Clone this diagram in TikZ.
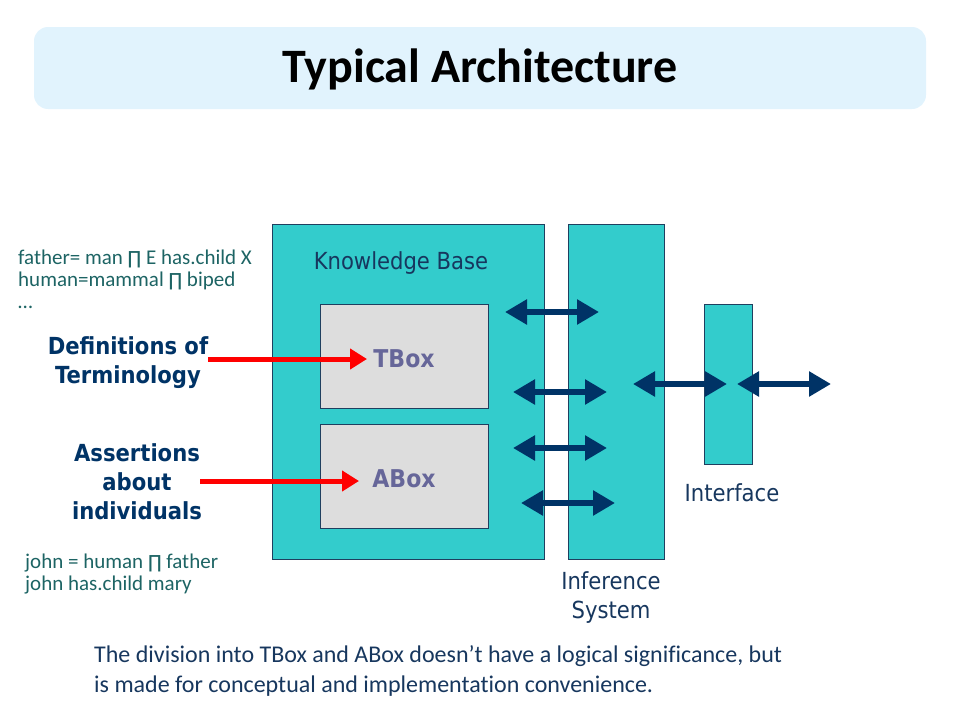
\documentclass[tikz,border=0pt]{standalone}
\usepackage{fontspec}
\setmainfont{Carlito}[Ligatures={NoCommon}]
\newfontfamily\tahoma{DejaVu Sans Condensed}
\newfontfamily\dvs{DejaVu Sans}
\usetikzlibrary{arrows.meta}
\definecolor{teal1}{HTML}{33CCCC}
\definecolor{navyb}{HTML}{1F3F5F}
\definecolor{navyarrow}{HTML}{003366}
\definecolor{titlebg}{HTML}{E1F3FD}
\definecolor{graybox}{HTML}{DDDDDD}
\definecolor{txtnavy}{HTML}{17375E}
\definecolor{txtteal}{HTML}{1D6464}
\definecolor{boxlabel}{HTML}{666699}
\newcommand{\prodsym}{{\dvs\fontsize{18}{22}\selectfont\char"220F}}
\tikzset{
  tealbox/.style={draw=navyb, line width=0.8pt, fill=teal1, inner sep=0pt},
  graybx/.style={draw=navyb, line width=0.8pt, fill=graybox, inner sep=0pt},
  dblarrow/.style={draw=navyarrow, line width=6pt,
    {Triangle[length=22pt,width=24pt]}-{Triangle[length=22pt,width=24pt]}},
  redarrow/.style={draw=red, line width=5pt, -{Triangle[length=17pt,width=20pt]}},
  lbl/.style={font=\tahoma\fontsize{23.5}{29}\selectfont, text=txtnavy, inner sep=0pt, align=center},
  boxlbl/.style={font=\tahoma\bfseries\fontsize{24.5}{29}\selectfont, text=boxlabel, inner sep=0pt},
  boldlbl/.style={font=\tahoma\bfseries\fontsize{23.5}{29}\selectfont, text=navyarrow, inner sep=0pt, align=center},
  smalltxt/.style={font=\fontsize{21}{22}\selectfont, text=txtteal, inner sep=0pt, align=left, anchor=north west},
}
\begin{document}
\begin{tikzpicture}[x=1pt,y=-1pt]
\useasboundingbox (0,0) rectangle (960,720);
% title
\node[fill=titlebg, rounded corners=14pt, minimum width=892pt, minimum height=82pt, inner sep=0pt] (titlebox) at (480,68) {};
\node[font=\bfseries\fontsize{48}{56}\selectfont, text=black, inner sep=0pt] (title) at (480,69) {Typical Architecture};
% boxes
\node[tealbox, minimum width=272pt, minimum height=335pt] (kb) at (408,391.5) {};
\node[tealbox, minimum width=96pt, minimum height=335pt] (inf) at (616,391.5) {};
\node[tealbox, minimum width=48pt, minimum height=160pt] (intf) at (728,384) {};
\node[graybx, minimum width=168pt, minimum height=104pt] (tbox) at (404,356) {};
\node[graybx, minimum width=168pt, minimum height=104pt] (abox) at (404,476) {};
% labels
\node[lbl] (kblbl) at (401,263) {Knowledge Base};
\node[boxlbl] (tlbl) at (404,359) {TBox};
\node[boxlbl] (albl) at (404,479) {ABox};
\node[lbl] (inflbl) at (611,597.5) {Inference\\System};
\node[lbl] (intflbl) at (732,493) {Interface};
% left texts
\node[boldlbl] (defs) at (128,363) {Definitions of\\Terminology};
\node[boldlbl] (asrt) at (137,482) {Assertions\\about\\individuals};
\node[smalltxt] (tdef) at (18,250) {father= man \prodsym{} E has.child X\\human=mammal \prodsym{} biped\\\dots};
\node[smalltxt] (adef) at (25,554) {john = human \prodsym{} father\\john has.child mary};
% bottom text
\node[font=\fontsize{24}{30}\selectfont, text=txtnavy, inner sep=0pt, align=left, anchor=north west] (note) at (94,645) {The division into TBox and ABox doesn't have a logical significance, but\\is made for conceptual and implementation convenience.};
% red arrows
\coordinate (r1s) at (208,359);
\coordinate (r1e) at (367,359);
\coordinate (r2s) at (200,481);
\coordinate (r2e) at (359,481);
\draw[redarrow] (r1s) -- (r1e);
\draw[redarrow] (r2s) -- (r2e);
% double arrows
\coordinate (a1s) at (505,312); \coordinate (a1e) at (599,312);
\coordinate (a2s) at (513,392); \coordinate (a2e) at (607,392);
\coordinate (a3s) at (513,448); \coordinate (a3e) at (607,448);
\coordinate (a4s) at (521,503); \coordinate (a4e) at (615,503);
\coordinate (a5s) at (633,384); \coordinate (a5e) at (727,384);
\coordinate (a6s) at (737,384); \coordinate (a6e) at (831,384);
\draw[dblarrow] (a1s) -- (a1e);
\draw[dblarrow] (a2s) -- (a2e);
\draw[dblarrow] (a3s) -- (a3e);
\draw[dblarrow] (a4s) -- (a4e);
\draw[dblarrow] (a5s) -- (a5e);
\draw[dblarrow] (a6s) -- (a6e);
\end{tikzpicture}
\end{document}
